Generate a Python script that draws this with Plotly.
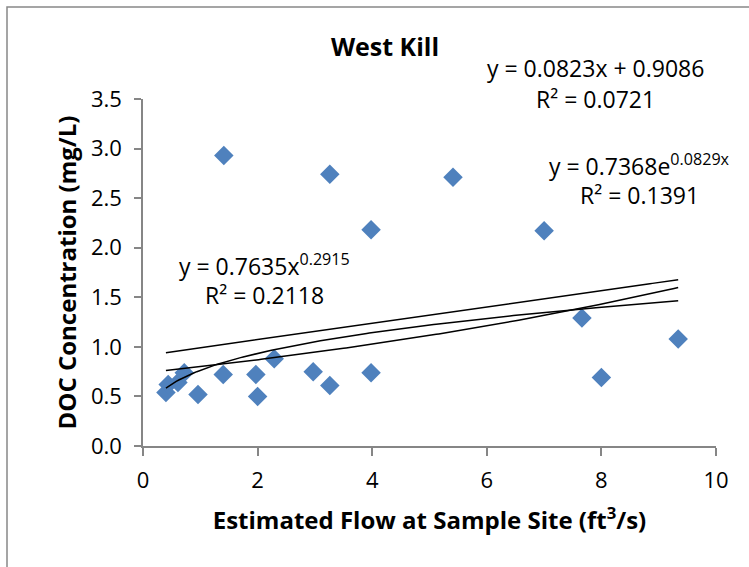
import numpy as np
import plotly.graph_objects as go

# Data
flow = [0.40, 0.44, 0.61, 0.72, 0.96, 1.40, 1.41, 1.97, 2.00, 2.29,
        2.97, 3.26, 3.26, 3.98, 3.98, 5.41, 7.00, 7.66, 8.00, 9.34]
doc = [0.54, 0.62, 0.64, 0.74, 0.52, 0.72, 2.93, 0.72, 0.50, 0.88,
       0.75, 0.61, 2.74, 0.74, 2.18, 2.71, 2.17, 1.29, 0.69, 1.08]

# Trendline coefficients (from chart labels)
lin_slope, lin_int = 0.0823, 0.9086
exp_a, exp_b = 0.7368, 0.0829
pow_a, pow_b = 0.7635, 0.2915

x_ticks = [0, 2, 4, 6, 8, 10]
y_ticks = [0.0, 0.5, 1.0, 1.5, 2.0, 2.5, 3.0, 3.5]

xs = np.linspace(min(flow), max(flow), 200)
FONT = "Open Sans"

fig = go.Figure()
fig.add_trace(go.Scatter(x=flow, y=doc, mode="markers",
                         marker=dict(symbol="diamond", size=15, color="#4F81BD"),
                         showlegend=False))
for ys in (lin_slope * xs + lin_int,
           exp_a * np.exp(exp_b * xs),
           pow_a * xs ** pow_b):
    fig.add_trace(go.Scatter(x=xs, y=ys, mode="lines",
                             line=dict(color="black", width=1.5),
                             showlegend=False, hoverinfo="skip"))

ann_font = dict(family=FONT, size=23, color="black")
annotations = [
    dict(x=595, y=68, text="y = 0.0823x + 0.9086"),
    dict(x=595, y=99, text="R² = 0.0721"),
    dict(x=639, y=165, text="y = 0.7368e<sup>0.0829x</sup>"),
    dict(x=639, y=195, text="R² = 0.1391"),
    dict(x=264, y=265, text="y = 0.7635x<sup>0.2915</sup>"),
    dict(x=264, y=295, text="R² = 0.2118"),
]
L, R, T, B = 143, 716, 99, 446
W, H = 749, 567
ann_list = []
for a in annotations:
    ann_list.append(dict(
        xref="paper", yref="paper",
        x=(a["x"] - L) / (R - L), y=(B - a["y"]) / (B - T),
        text=a["text"], showarrow=False, font=ann_font,
        xanchor="center", yanchor="middle"))

fig.update_layout(
    width=W, height=H,
    margin=dict(l=L, r=W - R, t=T, b=H - B),
    paper_bgcolor="white", plot_bgcolor="white",
    title=dict(text="<b>West Kill</b>", x=385 / W, xanchor="center",
               y=1 - 47 / H, yanchor="middle",
               font=dict(family=FONT, size=25, color="black")),
    annotations=ann_list,
    shapes=[dict(type="rect", xref="paper", yref="paper",
                 x0=(7 - L) / (R - L), x1=(755 - L) / (R - L),
                 y0=(B - 575) / (B - T), y1=(B - 7) / (B - T),
                 line=dict(color="#888888", width=1.5), fillcolor="rgba(0,0,0,0)",
                 layer="below")],
    xaxis=dict(range=[0, 10], tickvals=x_ticks, showgrid=False, zeroline=False,
               showline=True, linecolor="#868686", linewidth=1.5,
               ticks="outside", ticklen=8, tickcolor="#868686", tickwidth=1.5,
               ticklabelstandoff=6,
               tickfont=dict(family=FONT, size=22, color="black"),
               title=dict(text="<b>Estimated Flow at Sample Site (ft<sup>3</sup>/s)</b>",
                          font=dict(family=FONT, size=24, color="black"), standoff=19)),
    yaxis=dict(range=[0, 3.5], tickvals=y_ticks, tickformat=".1f", showgrid=False,
               zeroline=False, showline=True, linecolor="#868686", linewidth=1.5,
               ticks="outside", ticklen=7, tickcolor="#868686", tickwidth=1.5,
               ticklabelstandoff=8,
               tickfont=dict(family=FONT, size=22, color="black"),
               title=dict(text="<b>DOC Concentration (mg/L)</b>",
                          font=dict(family=FONT, size=24, color="black"), standoff=8)),
)

fig.write_html("out.html")
